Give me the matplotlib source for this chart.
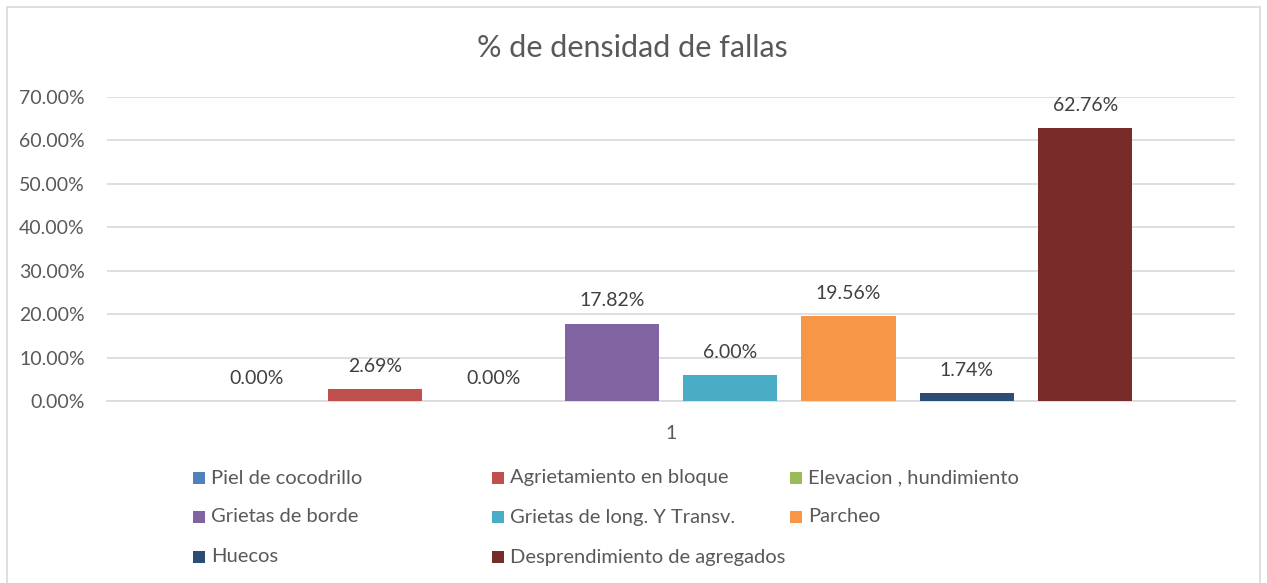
import matplotlib
matplotlib.use("Agg")
import matplotlib.pyplot as plt
from matplotlib.patches import Rectangle

series = ["Piel de cocodrillo", "Agrietamiento en bloque", "Elevacion , hundimiento",
          "Grietas de borde", "Grietas de long. Y Transv.", "Parcheo",
          "Huecos", "Desprendimiento de agregados"]
values = [0.00, 2.69, 0.00, 17.82, 6.00, 19.56, 1.74, 62.76]
colors = ["#4F81BD", "#C0504D", "#9BBB59", "#8064A2", "#4BACC6", "#F79646", "#2C4D75", "#772C2A"]
yticks = [0, 10, 20, 30, 40, 50, 60, 70]
category = "1"
title = "% de densidad de fallas"

plt.rcParams['font.family'] = ['Lato', 'DejaVu Sans']
TXT = "#595959"
W, H = 1267, 583
fig = plt.figure(figsize=(W / 100, H / 100), dpi=100)

# outer chart border
fig.patches.append(Rectangle((7 / W, -0.02), (1260 - 7) / W, 1.02 - 7 / H,
                             transform=fig.transFigure, fill=False,
                             edgecolor="#D9D9D9", linewidth=1.2))

ax = fig.add_axes([107 / W, (H - 401) / H, (1235 - 107) / W, (401 - 97) / H])
x = list(range(len(values)))
ax.bar(x, values, width=0.795, color=colors, zorder=3)
for xi, v in zip(x, values):
    ax.annotate(f"{v:.2f}%", (xi, v), xytext=(0, 16.5), textcoords="offset points",
                ha="center", va="center", fontsize=14, color="#404040")

ax.set_xlim(-1.265, 8.265)
ax.set_ylim(0, 70)
ax.set_yticks(yticks)
ax.set_yticklabels([f"{t:.2f}%" for t in yticks])
ax.yaxis.grid(True, color="#D9D9D9", linewidth=1.2, zorder=0)
ax.set_xticks([(len(values) - 1) / 2])
ax.set_xticklabels([category])
ax.tick_params(axis="both", length=0, labelsize=14, labelcolor=TXT)
ax.tick_params(axis="y", pad=16)
ax.tick_params(axis="x", pad=17)
for s in ["left", "right", "top"]:
    ax.spines[s].set_visible(False)
ax.spines["bottom"].set_color("#D9D9D9")
ax.spines["bottom"].set_linewidth(1.2)

fig.text(632 / W, 1 - 48 / H, title, ha="center", va="center", fontsize=22, color=TXT)

# legend, Excel-style fixed columns, row-major
col_x = [193, 492, 790]
row_y = [478, 517, 557]
sq = 12
for i, (name, c) in enumerate(zip(series, colors)):
    r, k = divmod(i, 3)
    x0, yc = col_x[k], row_y[r]
    fig.patches.append(Rectangle((x0 / W, 1 - (yc + sq / 2) / H), sq / W, sq / H,
                                 transform=fig.transFigure, facecolor=c, edgecolor="none"))
    fig.text((x0 + sq + 6) / W, 1 - yc / H, name, ha="left", va="center",
             fontsize=14.5, color=TXT)

fig.savefig("out.png", dpi=100)
